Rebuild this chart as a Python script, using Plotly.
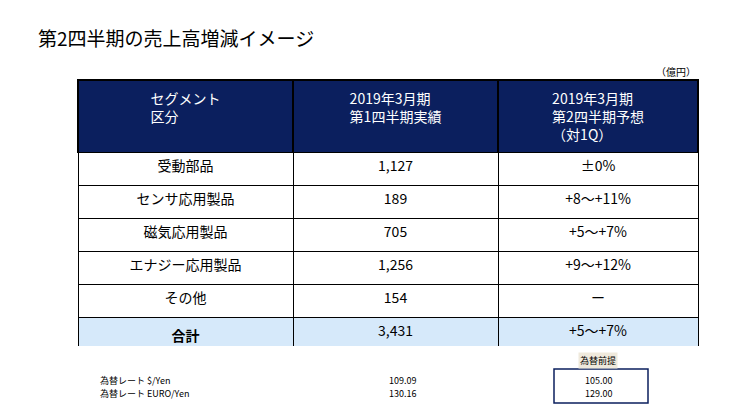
import plotly.graph_objects as go

headers = ["セグメント<br>区分", "2019年3月期<br>第1四半期実績", "2019年3月期<br>第2四半期予想<br>（対1Q）"]
segments = ["受動部品", "センサ応用製品", "磁気応用製品", "エナジー応用製品", "その他", "<b>合計</b>"]
q1_actual = ["1,127", "189", "705", "1,256", "154", "3,431"]
q2_forecast = ["±0%", "+8～+11%", "+5～+7%", "+9～+12%", "ー", "+5～+7%"]
fx_labels = ["為替レート $/Yen", "為替レート EURO/Yen"]
fx_actual = ["109.09", "130.16"]
fx_assumed = ["105.00", "129.00"]

W, H = 750, 404
navy = "#0b1f5e"
fills = ["white"] * 5 + ["#d6e9fa"]
font = "Noto Sans CJK JP"

fig = go.Figure(go.Table(
    domain=dict(x=[70 / W, 690 / W], y=[1 - 338 / H, 1 - 72 / H]),
    columnwidth=[215, 205, 200],
    header=dict(values=headers, fill_color=navy, line=dict(color="black", width=1.5),
                font=dict(color="white", size=14, family=font), align="center", height=68),
    cells=dict(values=[segments, q1_actual, q2_forecast],
               fill_color=[fills] * 3, line=dict(color="black", width=1),
               font=dict(color="black", size=14, family=font),
               align="center", height=33),
))

ann = [
    dict(x=28 / W, y=1 - 30 / H, text="第2四半期の売上高増減イメージ", font=dict(size=19)),
    dict(x=690 / W, y=1 - 63 / H, text="（億円）", font=dict(size=10), xanchor="right"),
]
for i, (lab, a, b) in enumerate(zip(fx_labels, fx_actual, fx_assumed)):
    y = 1 - (372 + 13 * i) / H
    ann.append(dict(x=90 / W, y=y, text=lab, font=dict(size=9)))
    ann.append(dict(x=394 / W, y=y, text=a, font=dict(size=9), xanchor="center"))
    ann.append(dict(x=590 / W, y=y, text=b, font=dict(size=9), xanchor="center"))
ann.append(dict(x=590 / W, y=1 - 352 / H, text="為替前提", font=dict(size=9),
                xanchor="center", bgcolor="#efe9dc"))
for a in ann:
    a.update(xref="paper", yref="paper", showarrow=False, yanchor="middle")
    a.setdefault("xanchor", "left")
    a["font"].update(family=font, color="black")

fig.update_layout(
    width=W, height=H, margin=dict(l=0, r=0, t=0, b=0),
    paper_bgcolor="white", plot_bgcolor="white", annotations=ann,
    shapes=[dict(type="rect", xref="paper", yref="paper",
                 x0=546 / W, x1=640 / W, y0=1 - 395 / H, y1=1 - 361 / H,
                 line=dict(color=navy, width=1.5))],
)
fig.write_html("out.html")
